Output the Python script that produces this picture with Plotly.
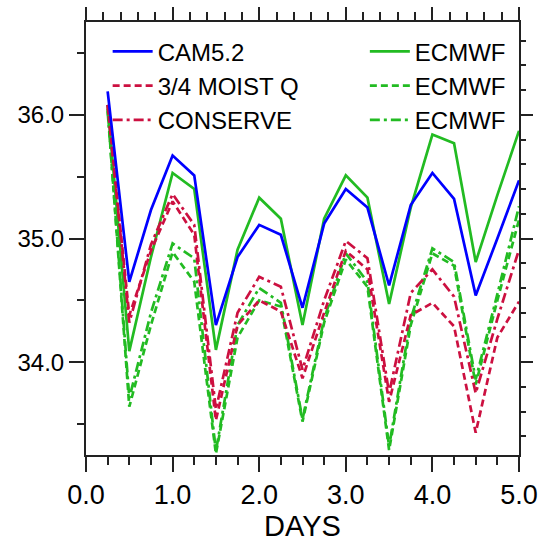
import plotly.graph_objects as go

days = [0.25, 0.5, 0.75, 1.0, 1.25, 1.5, 1.75, 2.0, 2.25, 2.5,
        2.75, 3.0, 3.25, 3.5, 3.75, 4.0, 4.25, 4.5, 4.75, 5.0]

cam52 = [36.19, 34.65, 35.23, 35.67, 35.51, 34.30, 34.85, 35.11, 35.03, 34.44,
         35.12, 35.40, 35.25, 34.62, 35.27, 35.53, 35.32, 34.54, 35.00, 35.47]
moist_q = [36.08, 34.38, 34.90, 35.30, 35.03, 33.53, 34.30, 34.50, 34.41, 33.87,
           34.40, 34.90, 34.75, 33.68, 34.38, 34.48, 34.29, 33.43, 34.20, 34.49]
conserve = [36.08, 34.32, 34.95, 35.36, 35.11, 33.62, 34.40, 34.69, 34.61, 33.94,
            34.50, 34.98, 34.84, 33.75, 34.56, 34.75, 34.53, 33.75, 34.35, 34.91]
ecmwf = [36.08, 34.09, 34.85, 35.53, 35.40, 34.10, 34.91, 35.33, 35.16, 34.30,
         35.16, 35.51, 35.33, 34.47, 35.25, 35.84, 35.77, 34.81, 35.35, 35.87]
ecmwf_dash = [36.05, 33.64, 34.30, 34.89, 34.65, 33.26, 34.20, 34.50, 34.45, 33.52,
              34.32, 34.83, 34.61, 33.29, 34.30, 34.88, 34.78, 33.82, 34.50, 35.15]
ecmwf_dashdot = [36.03, 33.71, 34.40, 34.96, 34.84, 33.28, 34.30, 34.60, 34.48, 33.54,
                 34.35, 34.88, 34.65, 33.32, 34.35, 34.92, 34.81, 33.86, 34.55, 35.26]

x_ticks = [0, 1, 2, 3, 4, 5]
x_ticktext = ["0.0", "1.0", "2.0", "3.0", "4.0", "5.0"]
y_ticks = [34, 35, 36]
y_ticktext = ["34.0", "35.0", "36.0"]

BLUE = "#0000ff"
GREEN = "#22bb22"
RED = "#cc1040"
DASH = "7px,4px"
DASHDOT = "10px,4px,3px,4px"
LW = 2.7
FONT = "Liberation Sans, Arial, sans-serif"

fig = go.Figure()

series = [
    ("CAM5.2", cam52, BLUE, "solid", "legend"),
    ("3/4 MOIST Q", moist_q, RED, DASH, "legend"),
    ("CONSERVE", conserve, RED, DASHDOT, "legend"),
    ("ECMWF", ecmwf, GREEN, "solid", "legend2"),
    ("ECMWF", ecmwf_dash, GREEN, DASH, "legend2"),
    ("ECMWF", ecmwf_dashdot, GREEN, DASHDOT, "legend2"),
]
draw_order = [4, 5, 3, 1, 2, 0]
for i in draw_order:
    name, vals, col, dash, leg = series[i]
    fig.add_trace(go.Scatter(x=days, y=vals, mode="lines", name=name,
                             line=dict(color=col, width=LW, dash=dash),
                             legend=leg, legendrank=i + 1))

# invisible trace to activate the top/right tick axes
fig.add_trace(go.Scatter(x=days, y=cam52, mode="lines", xaxis="x2", yaxis="y2",
                         line=dict(width=0), opacity=0, showlegend=False,
                         hoverinfo="skip"))

frame = dict(showline=True, linecolor="#222", linewidth=2, showgrid=False,
             zeroline=False, ticks="outside", tickcolor="#222", tickwidth=1.5,
             automargin=False)

fig.update_layout(
    width=544, height=542,
    margin=dict(l=86, r=25, t=22, b=87),
    paper_bgcolor="white", plot_bgcolor="white",
    font=dict(family=FONT, color="black"),
    showlegend=True,
    xaxis=dict(range=[0, 5], tickvals=x_ticks, ticktext=x_ticktext, ticklen=15,
               minor=dict(dtick=0.25, tick0=0, ticklen=8, ticks="outside",
                          tickcolor="#222", tickwidth=1.5),
               tickfont=dict(size=27), title=dict(text="DAYS", font=dict(size=29), standoff=0),
               **frame),
    xaxis2=dict(range=[0, 5], overlaying="x", side="top", anchor="y", tickvals=x_ticks,
                showticklabels=False, ticklen=13,
                minor=dict(dtick=0.2, tick0=0, ticklen=8, ticks="outside",
                           tickcolor="#222", tickwidth=1.5),
                **frame),
    yaxis=dict(range=[33.25, 36.75], tickvals=y_ticks, ticktext=y_ticktext, ticklen=15,
               minor=dict(dtick=0.5, tick0=33.5, ticklen=7, ticks="outside",
                          tickcolor="#222", tickwidth=1.5),
               tickfont=dict(size=24), **frame),
    yaxis2=dict(range=[33.25, 36.75], overlaying="y", side="right", anchor="x",
                tickvals=y_ticks, showticklabels=False, ticklen=12,
                minor=dict(dtick=0.2, tick0=33.2, ticklen=5, ticks="outside",
                           tickcolor="#222", tickwidth=1.5),
                **frame),
    legend=dict(x=0.05, y=0.983, xanchor="left", yanchor="top", bgcolor="rgba(0,0,0,0)",
                font=dict(size=24, family=FONT), itemwidth=40, tracegroupgap=0,
                traceorder="normal"),
    legend2=dict(x=0.644, y=0.983, xanchor="left", yanchor="top", bgcolor="rgba(0,0,0,0)",
                 font=dict(size=24, family=FONT), itemwidth=40, tracegroupgap=0,
                 traceorder="normal"),
)

fig.write_html("out.html")
